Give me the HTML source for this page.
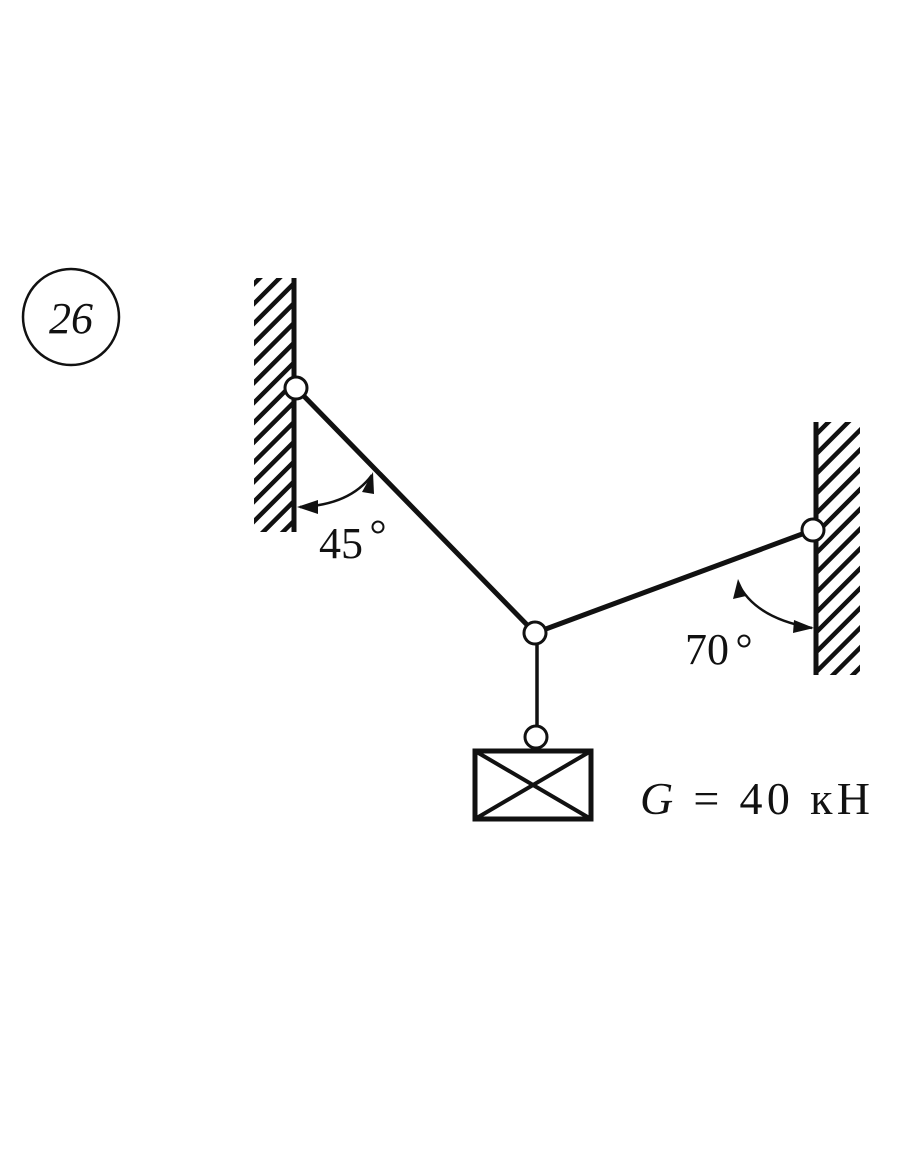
<!DOCTYPE html>
<html><head><meta charset="utf-8"><style>body{margin:0;background:#fff}svg{display:block}</style></head>
<body>
<svg width="910" height="1155" viewBox="0 0 910 1155" xmlns="http://www.w3.org/2000/svg">
<defs>
<pattern id="h" width="14" height="14" patternUnits="userSpaceOnUse" patternTransform="rotate(45)">
<rect x="0" y="0" width="4.5" height="14" fill="#111"/>
</pattern>
</defs>
<rect width="910" height="1155" fill="#fff"/>
<circle cx="71" cy="317" r="48" fill="none" stroke="#111" stroke-width="2.5"/>
<text x="71" y="333" font-family="Liberation Serif, serif" font-style="italic" font-size="44" text-anchor="middle" fill="#111">26</text>
<rect x="254" y="278" width="40" height="254" fill="url(#h)"/>
<line x1="294" y1="278" x2="294" y2="532" stroke="#111" stroke-width="5"/>
<rect x="817" y="422" width="43" height="253" fill="url(#h)"/>
<line x1="816" y1="422" x2="816" y2="675" stroke="#111" stroke-width="5"/>
<line x1="296" y1="388" x2="535" y2="633" stroke="#111" stroke-width="5"/>
<line x1="535" y1="633" x2="813" y2="530" stroke="#111" stroke-width="5"/>
<line x1="537" y1="633" x2="537" y2="737" stroke="#111" stroke-width="3.5"/>
<g fill="#fff" stroke="#111" stroke-width="3">
<circle cx="296" cy="388" r="11"/>
<circle cx="535" cy="633" r="11"/>
<circle cx="813" cy="530" r="11"/>
<circle cx="536" cy="737" r="11"/>
</g>
<rect x="475" y="751" width="116" height="68" fill="#fff" stroke="#111" stroke-width="5"/>
<line x1="475" y1="751" x2="591" y2="819" stroke="#111" stroke-width="4"/>
<line x1="591" y1="751" x2="475" y2="819" stroke="#111" stroke-width="4"/>
<path d="M300 507 Q350 505 372 475" fill="none" stroke="#111" stroke-width="2.5"/>
<polygon points="297,507 318,500 318,514" fill="#111"/>
<polygon points="373,472 362,492 374,494" fill="#111"/>
<path d="M738 583 Q755 618 812 628" fill="none" stroke="#111" stroke-width="2.5"/>
<polygon points="738,579 733,599 746,596" fill="#111"/>
<polygon points="814,628 794,620 793,633" fill="#111"/>
<circle cx="378" cy="527" r="5.5" fill="none" stroke="#111" stroke-width="2"/>
<circle cx="744" cy="641" r="5.5" fill="none" stroke="#111" stroke-width="2"/>
<g font-family="Liberation Serif, serif" fill="#111">
<text x="319" y="558" font-size="44">45</text>
<text x="685" y="664" font-size="44">70</text>
<text x="640" y="814" font-size="46" textLength="230" lengthAdjust="spacing"><tspan font-style="italic">G</tspan> = 40 кН</text>
</g>
</svg>
</body></html>
